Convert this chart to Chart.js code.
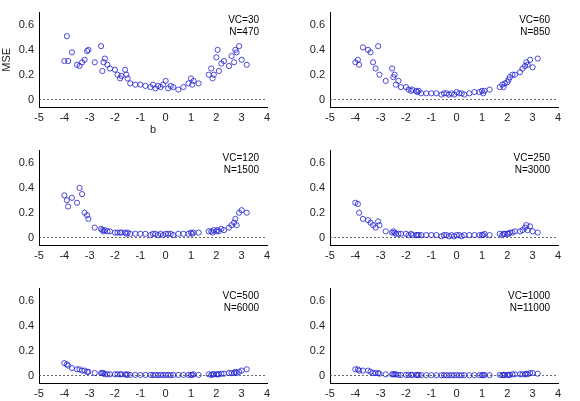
<!DOCTYPE html>
<html><head><meta charset="utf-8">
<script src="https://cdn.jsdelivr.net/npm/chart.js@4"></script>
<style>body{margin:0;width:580px;height:401px;overflow:hidden;background:#fff;position:relative}</style>
</head><body>
<script>
const bValues=[-4,-3.9,-3.85,-3.7,-3.5,-3.4,-3.3,-3.2,-3.1,-3.05,-2.8,-2.55,-2.5,-2.45,-2.4,-2.3,-2.2,-2.0,-1.9,-1.8,-1.75,-1.6,-1.55,-1.5,-1.4,-1.2,-1.0,-0.8,-0.6,-0.5,-0.4,-0.3,-0.2,-0.1,0,0.1,0.2,0.3,0.5,0.7,0.9,1.0,1.05,1.1,1.3,1.7,1.8,1.85,1.9,2.0,2.05,2.1,2.2,2.3,2.5,2.6,2.7,2.75,2.8,2.9,3.0,3.2];
const mse30=[.31,.51,.31,.38,.28,.27,.3,.32,.39,.4,.3,.43,.23,.3,.33,.28,.25,.24,.2,.17,.19,.24,.2,.17,.13,.12,.12,.11,.1,.12,.09,.11,.1,.12,.15,.09,.11,.1,.08,.1,.13,.17,.12,.15,.13,.2,.25,.17,.2,.34,.4,.23,.29,.31,.27,.35,.3,.4,.38,.43,.32,.28];
const mse60=[.3,.32,.28,.42,.4,.38,.3,.25,.43,.2,.15,.25,.18,.2,.12,.15,.1,.1,.08,.07,.08,.07,.06,.07,.05,.05,.05,.05,.04,.05,.05,.04,.05,.04,.06,.05,.05,.04,.05,.06,.06,.07,.05,.07,.08,.1,.12,.1,.13,.14,.16,.18,.2,.2,.22,.25,.27,.3,.28,.32,.26,.33];
const mse120=[.34,.3,.25,.32,.28,.4,.35,.2,.18,.15,.08,.07,.06,.05,.06,.05,.05,.04,.04,.04,.04,.04,.03,.04,.03,.03,.03,.03,.02,.03,.03,.02,.03,.02,.03,.03,.03,.02,.03,.03,.03,.04,.03,.04,.04,.05,.05,.04,.06,.05,.06,.05,.07,.06,.08,.1,.12,.15,.1,.2,.22,.2];
const mse250=[.28,.27,.2,.15,.14,.12,.1,.08,.13,.1,.05,.04,.05,.04,.03,.03,.03,.03,.02,.03,.02,.02,.02,.02,.02,.02,.02,.02,.01,.02,.02,.01,.02,.01,.02,.02,.01,.02,.02,.02,.02,.02,.02,.03,.02,.03,.02,.03,.03,.03,.03,.04,.04,.05,.05,.06,.08,.1,.06,.09,.05,.04];
const mse500=[.1,.09,.08,.06,.05,.05,.04,.04,.03,.03,.02,.02,.02,.02,.01,.01,.01,.01,.01,.01,.01,.01,.005,.01,.005,.005,.005,.005,.005,.003,.005,.003,.005,.003,.005,.005,.003,.005,.005,.005,.005,.005,.005,.01,.005,.01,.005,.01,.01,.01,.01,.01,.015,.015,.02,.02,.02,.03,.02,.03,.04,.05];
const mse1000=[.05,.05,.04,.04,.04,.03,.02,.02,.02,.015,.01,.01,.01,.01,.01,.005,.005,.005,.005,.005,.005,.005,.003,.005,.003,.003,.003,.003,.002,.003,.002,.002,.003,.002,.003,.002,.002,.003,.002,.003,.003,.003,.003,.005,.003,.005,.003,.005,.005,.005,.005,.005,.01,.01,.01,.01,.01,.015,.01,.02,.02,.015];
const panels=[
 {vc:'VC=30',n:'N=470',y:mse30},{vc:'VC=60',n:'N=850',y:mse60},
 {vc:'VC=120',n:'N=1500',y:mse120},{vc:'VC=250',n:'N=3000',y:mse250},
 {vc:'VC=500',n:'N=6000',y:mse500},{vc:'VC=1000',n:'N=11000',y:mse1000}];
const xTicks=[-5,-4,-3,-2,-1,0,1,2,3,4], yTicks=[0,0.2,0.4,0.6];
const colLeft=[39,330], rowTop=[12,150,288];
const font={family:'Liberation Sans, Arial',size:11};
panels.forEach((p,i)=>{
  const first=i===0;
  const W=39+228+14, H=8+95+(first?30:18);
  const c=document.createElement('canvas');
  c.width=W;c.height=H;
  c.style.cssText=`position:absolute;left:${colLeft[i%2]-39}px;top:${rowTop[Math.floor(i/2)]-8}px;width:${W}px;height:${H}px`;
  document.body.appendChild(c);
  const label={id:'lbl',afterDraw(ch){const g=ch.ctx,a=ch.chartArea;g.save();g.font='10px Liberation Sans, Arial';g.fillStyle='#000';g.textAlign='right';g.fillText(p.vc,a.right-8,a.top+10);g.fillText(p.n,a.right-8,a.top+22);g.restore();}};
  new Chart(c,{data:{datasets:[
    {type:'scatter',data:bValues.map((x,k)=>({x,y:p.y[k]})),pointStyle:'circle',pointRadius:2.6,borderWidth:0.8,borderColor:'#2020d0',backgroundColor:'rgba(0,0,0,0)'},
    {type:'line',data:[{x:-5,y:0},{x:4,y:0}],borderColor:'#444',borderWidth:0.8,borderDash:[2,2],pointRadius:0}
  ]},
  options:{animation:false,responsive:false,devicePixelRatio:1,
   layout:{padding:{top:8,right:14,left:0,bottom:0}},
   plugins:{legend:{display:false},tooltip:{enabled:false}},
   scales:{
    x:{type:'linear',min:-5,max:4,afterBuildTicks:s=>{s.ticks=xTicks.map(v=>({value:v}))},afterFit:s=>{s.height=first?30:18},
      grid:{display:false,tickLength:3},border:{color:'#000'},ticks:{font,color:'#222',padding:1,maxRotation:0},
      title:{display:first,text:'b',font,color:'#222',padding:0}},
    y:{type:'linear',min:-0.06,max:0.7,afterBuildTicks:s=>{s.ticks=yTicks.map(v=>({value:v}))},afterFit:s=>{s.width=39},
      grid:{display:false,tickLength:3},border:{color:'#000'},ticks:{font,color:'#222',padding:2,callback:v=>v===0?'0':String(v)},
      title:{display:first,text:'MSE',font,color:'#222',padding:0}}
   }},plugins:[label]});
});
</script>
</body></html>
